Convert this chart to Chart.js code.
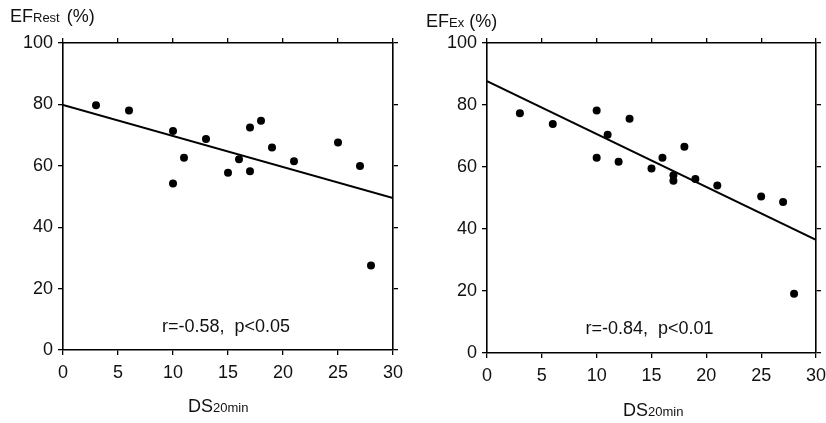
<!DOCTYPE html>
<html>
<head>
<meta charset="utf-8">
<title>EF vs DS20min</title>
<script src="https://cdn.jsdelivr.net/npm/chart.js@4/dist/chart.umd.min.js"></script>
<style>
    html, body { margin: 0; padding: 0; background: #fff; overflow: hidden; width: 826px; height: 423px; }
    .panel { position: absolute; top: 0; height: 423px; }
    #pRest { left: 0; width: 413px; }
    #pEx   { left: 413px; width: 420px; }
</style>
</head>
<body>
<div class="panel" id="pRest"><canvas id="cRest" width="413" height="423"></canvas></div>
<div class="panel" id="pEx"><canvas id="cEx" width="420" height="423"></canvas></div>
<script>
// ── Data ─────────────────────────────────────────────────────────────────────
var xTicks = [0, 5, 10, 15, 20, 25, 30];
var yTicks = [0, 20, 40, 60, 80, 100];

// EF at rest vs DS20min
var restDS = [3, 6, 10, 10, 11, 13, 15, 16, 17, 17, 18, 19, 21, 25, 27, 28];
var restEF = [79.7, 78.0, 71.3, 54.2, 62.6, 68.7, 57.7, 62.1, 72.5, 58.2, 74.7, 66.0, 61.5, 67.6, 59.9, 27.5];

// EF at exercise vs DS20min
var exDS = [3, 6, 10, 10, 11, 12, 13, 15, 16, 17, 17, 18, 19, 21, 25, 27, 28];
var exEF = [77.3, 73.9, 78.2, 63.0, 70.4, 61.7, 75.6, 59.5, 63.0, 57.3, 55.6, 66.5, 56.1, 54.0, 50.5, 48.7, 19.1];

// regression lines, ends at x = 0 and x = 30
var fitX    = [0, 30];
var restFit = [79.8, 49.5];
var exFit   = [87.7, 36.5];

(function() {
    'use strict';

    var FONT = "'Liberation Sans', Arial, Helvetica, sans-serif";
    var INK  = '#111';

    Chart.defaults.font.family = FONT;
    Chart.defaults.color = INK;

    function pts(xs, ys) {
        return xs.map(function(x, i) { return { x: x, y: ys[i] }; });
    }

    // ── Labels plugin: axis titles with subscripts + r/p note ────────────────
    var labelsPlugin = {
        id: 'figLabels',
        afterDraw: function(chart, args, o) {
            var ctx = chart.ctx;
            var ca  = chart.chartArea;
            ctx.save();
            ctx.fillStyle = INK;
            ctx.textBaseline = 'alphabetic';

            // y title, e.g. EF_Rest (%)
            var x = o.titleX;
            ctx.textAlign = 'left';
            ctx.font = '18px ' + FONT;
            ctx.fillText('EF', x, o.titleY);
            x += ctx.measureText('EF').width;
            ctx.font = '13px ' + FONT;
            ctx.fillText(o.titleSub, x, o.titleY);
            x += ctx.measureText(o.titleSub).width + o.titleGap;
            ctx.font = '18px ' + FONT;
            ctx.fillText('(%)', x, o.titleY);

            // x title DS_20min
            x = o.xTitleX;
            ctx.fillText('DS', x, o.xTitleY);
            x += ctx.measureText('DS').width;
            ctx.font = '13px ' + FONT;
            ctx.fillText('20min', x, o.xTitleY);

            // correlation note
            ctx.font = '18px ' + FONT;
            ctx.textAlign = 'center';
            ctx.fillText(o.note, (ca.left + ca.right) / 2 - 2, o.noteY);
            ctx.restore();
        }
    };

    function axis(pos, ticks, show, size, pad) {
        var horiz = pos === 'bottom' || pos === 'top';
        return {
            type: 'linear',
            position: pos,
            min: ticks[0],
            max: ticks[ticks.length - 1],
            afterBuildTicks: function(s) { s.ticks = ticks.map(function(v) { return { value: v }; }); },
            afterFit: function(s) { if (horiz) { s.height = size; } else { s.width = size; } },
            grid: { drawOnChartArea: false, drawTicks: true, tickLength: 5, color: '#000', lineWidth: 1.3 },
            border: { display: true, color: '#000', width: 1.6 },
            ticks: { display: show, padding: pad, font: { size: 18 }, color: INK }
        };
    }

    function makeChart(id, xs, ys, fit, cfg) {
        return new Chart(document.getElementById(id), {
            type: 'scatter',
            data: {
                datasets: [{
                    data: pts(xs, ys),
                    pointRadius: 4,
                    pointBackgroundColor: '#000',
                    pointBorderWidth: 0
                }, {
                    type: 'line',
                    data: pts(fitX, fit),
                    borderColor: '#000',
                    borderWidth: 2,
                    pointRadius: 0,
                    fill: false
                }]
            },
            options: {
                responsive: false,
                animation: false,
                layout: { padding: cfg.padding },
                plugins: {
                    legend: { display: false },
                    tooltip: { enabled: false },
                    figLabels: cfg.labels
                },
                scales: {
                    x:  axis('bottom', xTicks, true, 35, 7),
                    x2: axis('top', xTicks, false, 6, 0),
                    y:  axis('left', yTicks, true, 50, 5),
                    y2: axis('right', yTicks, false, 14, 0)
                }
            },
            plugins: [labelsPlugin]
        });
    }

    // ── Left panel: EF rest ──────────────────────────────────────────────────
    makeChart('cRest', restDS, restEF, restFit, {
        padding: { left: 13, right: 6, top: 37, bottom: 38 },
        labels: { titleX: 10, titleY: 22, titleSub: 'Rest', titleGap: 7, xTitleX: 188, xTitleY: 412,
                  note: 'r=-0.58,  p<0.05', noteY: 332 }
    });

    // ── Right panel: EF exercise ─────────────────────────────────────────────
    makeChart('cEx', exDS, exEF, exFit, {
        padding: { left: 24, right: 2, top: 37, bottom: 35 },
        labels: { titleX: 13, titleY: 27, titleSub: 'Ex', titleGap: 5, xTitleX: 210, xTitleY: 416,
                  note: 'r=-0.84,  p<0.01', noteY: 334 }
    });
})();
</script>
</body>
</html>
